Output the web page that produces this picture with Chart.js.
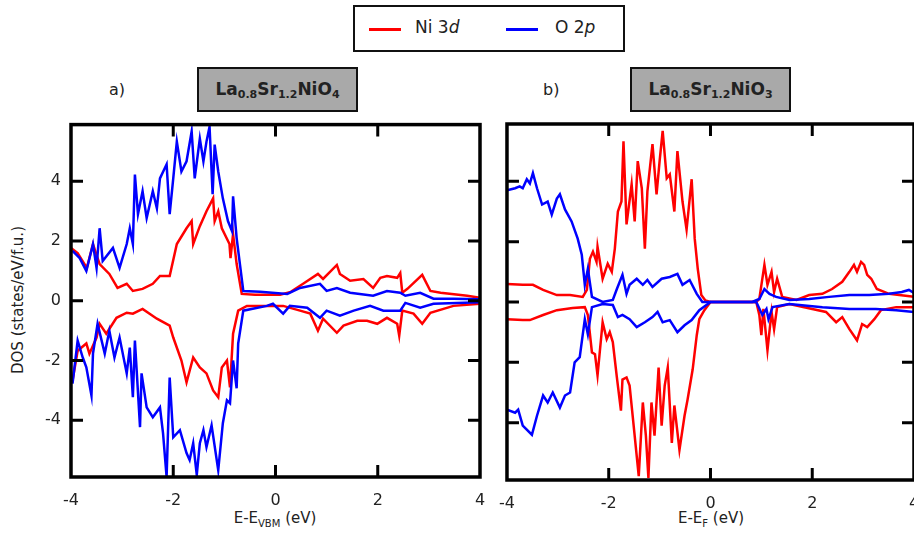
<!DOCTYPE html>
<html>
<head>
<meta charset="utf-8">
<script src="https://cdn.jsdelivr.net/npm/chart.js@4.4.1/dist/chart.umd.min.js"></script>
<style>
  html, body { margin: 0; padding: 0; background: #fff; overflow: hidden; }
  body { width: 914px; height: 535px; position: relative; font-family: "DejaVu Sans", sans-serif; color: #222; }
  .abs { position: absolute; }
  .legend { left: 353px; top: 5px; width: 268px; height: 43px; border: 2px solid #111; }
  .legend .ln { position: absolute; top: 21px; width: 32px; height: 3px; }
  .legend .tx { position: absolute; top: 10px; font-size: 17px; }
  .tbox { top: 67px; width: 157px; height: 41px; background: #a9a9a9; border: 2px solid #111;
          font-weight: bold; font-size: 17px; text-align: center; line-height: 41px; }
  .tbox sub { font-size: 11px; vertical-align: -3px; }
  .lbl { font-size: 16px; top: 80px; }
  .xtitle { top: 509px; font-size: 15px; transform: translateX(-50%); white-space: nowrap; }
  .xtitle sub { font-size: 10px; vertical-align: -4px; }
  .ytitle { left: 18px; top: 300px; font-size: 15px; white-space: nowrap;
            transform: translate(-50%, -50%) rotate(-90deg); }
</style>
</head>
<body>

<div class="abs legend">
  <div class="ln" style="left:14px;background:#ff0000"></div>
  <div class="tx" style="left:60px">Ni 3<i>d</i></div>
  <div class="ln" style="left:151px;background:#0000ff"></div>
  <div class="tx" style="left:200px">O 2<i>p</i></div>
</div>

<div class="abs lbl" style="left:109px">a)</div>
<div class="abs tbox" style="left:197px">La<sub>0.8</sub>Sr<sub>1.2</sub>NiO<sub>4</sub></div>
<div class="abs lbl" style="left:543px">b)</div>
<div class="abs tbox" style="left:630px">La<sub>0.8</sub>Sr<sub>1.2</sub>NiO<sub>3</sub></div>

<div class="abs ytitle">DOS (states/eV/f.u.)</div>
<div class="abs xtitle" style="left:275px">E-E<sub>VBM</sub> (eV)</div>
<div class="abs xtitle" style="left:711px">E-E<sub>F</sub> (eV)</div>

<div class="abs" style="left:0;top:105px;width:505px;height:430px"><canvas id="chartA"></canvas></div>
<div class="abs" style="left:485px;top:110px;width:451px;height:425px"><canvas id="chartB"></canvas></div>

<script>
// tick labels
const xTicks = [-4, -2, 0, 2, 4];
const yTicks = [-4, -2, 0, 2, 4];

// a) La0.8Sr1.2NiO4, energies vs E_VBM  [E, DOS]
const niUpA = [[-4,1.77],[-3.87,1.6],[-3.69,1.1],[-3.57,1.9],[-3.44,1.23],[-3.25,0.9],[-3.09,0.43],[-2.91,0.57],
  [-2.79,0.33],[-2.6,0.4],[-2.4,0.57],[-2.26,0.83],[-2.07,0.83],[-1.93,1.9],[-1.74,2.43],[-1.64,2.67],[-1.61,1.9],
  [-1.48,2.5],[-1.35,3.0],[-1.22,3.43],[-1.19,2.67],[-1.12,3.0],[-1.05,2.43],[-0.9,1.9],[-0.88,1.43],[-0.83,2.23],
  [-0.76,1.23],[-0.66,0.23],[-0.4,0.2],[0.09,0.2],[0.3,0.3],[0.54,0.57],[0.83,0.9],[0.93,0.73],[1.2,1.2],[1.26,0.9],
  [1.46,0.67],[1.72,0.73],[1.91,0.43],[2.05,0.77],[2.18,0.83],[2.38,0.77],[2.44,0.93],[2.48,0.27],[2.58,0.4],
  [2.87,0.87],[3.03,0.33],[3.23,0.27],[3.75,0.17],[4,0.1]];
const oUpA = [[-3.97,1.67],[-3.83,1.43],[-3.7,1.0],[-3.57,1.9],[-3.5,1.1],[-3.44,2.43],[-3.38,1.33],[-3.18,1.77],
  [-3.05,1.1],[-2.91,1.9],[-2.85,2.43],[-2.79,1.9],[-2.75,4.23],[-2.69,2.9],[-2.6,3.67],[-2.52,2.77],[-2.4,3.67],
  [-2.32,3.1],[-2.26,4.1],[-2.13,4.57],[-2.07,2.9],[-2.0,4.1],[-1.93,5.33],[-1.84,4.33],[-1.74,4.67],[-1.64,5.67],
  [-1.58,4.1],[-1.48,5.43],[-1.41,4.67],[-1.35,5.33],[-1.29,5.83],[-1.23,3.57],[-1.19,5.23],[-1.12,4.33],
  [-1.03,3.43],[-0.93,2.67],[-0.85,2.33],[-0.83,3.5],[-0.76,2.1],[-0.63,0.33],[-0.3,0.3],[0.23,0.23],[0.48,0.43],
  [0.87,0.57],[1.0,0.33],[1.2,0.43],[1.46,0.27],[1.91,0.17],[2.18,0.33],[2.44,0.27],[2.54,0.17],[2.83,0.27],
  [3.09,0.07],[3.48,0.07],[4,0.05]];
const niDnA = [[-3.97,-2.67],[-3.87,-1.67],[-3.7,-1.43],[-3.64,-1.77],[-3.5,-1.23],[-3.44,-0.77],[-3.31,-1.1],
  [-3.11,-0.57],[-2.91,-0.4],[-2.79,-0.43],[-2.6,-0.27],[-2.32,-0.6],[-2.07,-0.83],[-2.0,-1.23],[-1.84,-2.0],
  [-1.74,-2.73],[-1.61,-1.9],[-1.48,-2.23],[-1.35,-2.43],[-1.22,-3.0],[-1.12,-3.23],[-1.05,-2.23],[-0.95,-2.0],
  [-0.89,-2.9],[-0.83,-1.1],[-0.73,-0.33],[-0.56,-0.17],[0.15,-0.17],[0.48,-0.33],[0.68,-0.43],[0.83,-1.0],
  [0.93,-0.6],[1.2,-1.07],[1.33,-0.83],[1.6,-0.67],[1.79,-0.67],[1.99,-0.77],[2.18,-0.57],[2.38,-0.77],
  [2.42,-1.17],[2.48,-0.33],[2.7,-0.43],[2.87,-0.77],[3.03,-0.4],[3.48,-0.17],[4,-0.1]];
const oDnA = [[-3.97,-2.77],[-3.87,-1.33],[-3.77,-1.9],[-3.7,-2.23],[-3.6,-3.17],[-3.57,-1.77],[-3.48,-0.77],
  [-3.34,-1.77],[-3.25,-1.0],[-3.15,-1.9],[-3.05,-1.23],[-2.91,-2.43],[-2.85,-1.57],[-2.79,-3.23],[-2.75,-1.33],
  [-2.65,-4.23],[-2.62,-2.43],[-2.52,-3.57],[-2.4,-3.9],[-2.26,-3.57],[-2.2,-4.43],[-2.13,-5.9],[-2.07,-2.57],
  [-2.0,-4.57],[-1.87,-4.33],[-1.74,-5.1],[-1.68,-5.33],[-1.61,-4.77],[-1.54,-5.83],[-1.48,-4.77],[-1.41,-4.33],
  [-1.35,-4.9],[-1.25,-4.17],[-1.12,-5.67],[-1.03,-4.1],[-0.95,-3.33],[-0.89,-3.43],[-0.83,-2.0],[-0.76,-2.93],
  [-0.73,-1.43],[-0.63,-0.33],[-0.17,-0.17],[-0.05,-0.1],[0.15,-0.43],[0.28,-0.17],[0.62,-0.23],[0.87,-0.57],
  [1.0,-0.33],[1.26,-0.5],[1.53,-0.33],[1.85,-0.17],[2.11,-0.33],[2.44,-0.33],[2.54,-0.07],[2.83,-0.23],
  [3.09,-0.1],[4,-0.05]];

// b) La0.8Sr1.2NiO3, energies vs E_F  [E, DOS]
const niUpB = [[-4,0.6],[-3.69,0.57],[-3.49,0.57],[-3.29,0.4],[-3.02,0.23],[-2.76,0.23],[-2.51,0.17],[-2.43,0.4],
  [-2.37,1.43],[-2.31,1.67],[-2.24,1.33],[-2.22,1.83],[-2.12,0.77],[-2.02,1.27],[-1.94,1.0],[-1.88,1.77],
  [-1.82,3.0],[-1.75,3.33],[-1.71,5.33],[-1.65,2.57],[-1.55,3.9],[-1.49,2.67],[-1.43,4.67],[-1.35,3.77],
  [-1.29,1.77],[-1.24,3.67],[-1.14,5.23],[-1.06,3.57],[-1.0,4.67],[-0.94,5.67],[-0.86,4.1],[-0.8,4.23],
  [-0.71,3.0],[-0.65,5.0],[-0.55,3.33],[-0.47,2.4],[-0.37,4.07],[-0.31,2.1],[-0.25,1.1],[-0.18,0.23],
  [-0.1,0.05],[0,0],[0.9,0],[0.96,0.1],[1.06,1.23],[1.12,0.57],[1.2,1.0],[1.25,0.33],[1.31,0.77],[1.41,0.17],
  [1.69,0.07],[1.94,0.23],[2.2,0.27],[2.39,0.43],[2.59,0.67],[2.73,1.0],[2.82,1.23],[2.88,1.0],[2.96,1.33],
  [3.02,1.23],[3.08,0.9],[3.16,0.77],[3.27,0.43],[3.51,0.27],[3.71,0.23],[4,0.17]];
const oUpB = [[-4,3.7],[-3.84,3.77],[-3.75,3.83],[-3.69,3.77],[-3.61,4.07],[-3.55,3.93],[-3.49,4.27],[-3.41,3.77],
  [-3.31,3.23],[-3.2,3.33],[-3.12,2.9],[-3.02,3.43],[-2.96,3.57],[-2.86,3.07],[-2.73,2.67],[-2.61,2.1],
  [-2.53,1.57],[-2.47,0.57],[-2.41,1.1],[-2.33,0.17],[-2.12,0.0],[-1.92,0.07],[-1.84,0.43],[-1.73,0.9],
  [-1.65,0.27],[-1.59,0.57],[-1.45,0.77],[-1.33,0.57],[-1.24,0.73],[-1.14,0.5],[-0.96,0.77],[-0.8,0.83],
  [-0.65,0.93],[-0.55,0.57],[-0.41,0.73],[-0.27,0.27],[-0.16,0],[0.82,0],[0.96,0.1],[1.06,0.43],[1.16,0.27],
  [1.29,0.17],[1.55,0.07],[1.94,0.1],[2.33,0.17],[2.73,0.23],[3.12,0.23],[3.51,0.27],[3.76,0.33],[3.9,0.4],[4,0.3]];
const niDnB = [[-4,-0.57],[-3.69,-0.6],[-3.55,-0.6],[-3.29,-0.43],[-3.02,-0.27],[-2.71,-0.2],[-2.47,-0.17],
  [-2.41,-0.43],[-2.33,-1.67],[-2.27,-1.73],[-2.22,-2.43],[-2.12,-0.67],[-2.04,-1.23],[-1.98,-1.0],[-1.92,-1.33],
  [-1.84,-2.5],[-1.76,-3.6],[-1.73,-2.57],[-1.65,-2.5],[-1.59,-2.77],[-1.53,-3.77],[-1.41,-5.77],[-1.33,-3.33],
  [-1.27,-4.43],[-1.22,-5.83],[-1.16,-3.33],[-1.1,-4.43],[-1.02,-2.17],[-0.96,-4.1],[-0.9,-2.77],[-0.84,-2.17],
  [-0.76,-4.67],[-0.71,-3.43],[-0.61,-4.9],[-0.51,-3.77],[-0.45,-3.23],[-0.35,-2.23],[-0.27,-1.1],[-0.22,-0.57],
  [-0.12,-0.27],[0,0],[0.9,0],[0.96,-0.43],[1.0,-1.1],[1.04,-0.23],[1.12,-1.6],[1.2,-0.33],[1.25,-0.9],
  [1.31,-0.17],[1.55,-0.07],[2.0,-0.23],[2.27,-0.33],[2.47,-0.67],[2.59,-0.5],[2.73,-0.9],[2.88,-1.27],
  [2.98,-0.73],[3.08,-0.83],[3.22,-0.57],[3.35,-0.27],[3.65,-0.17],[4,-0.17]];
const oDnB = [[-4,-3.57],[-3.84,-3.67],[-3.78,-3.57],[-3.69,-4.1],[-3.51,-4.4],[-3.41,-3.77],[-3.29,-3.1],
  [-3.2,-3.33],[-3.1,-3.0],[-2.96,-3.5],[-2.86,-3.1],[-2.76,-3.0],[-2.67,-2.0],[-2.57,-1.83],[-2.47,-0.57],
  [-2.41,-1.07],[-2.33,-0.17],[-2.12,-0.07],[-1.92,-0.1],[-1.82,-0.5],[-1.73,-0.43],[-1.59,-0.57],[-1.45,-0.83],
  [-1.29,-0.67],[-1.14,-0.5],[-1.04,-0.33],[-0.94,-0.67],[-0.8,-0.6],[-0.65,-1.0],[-0.51,-0.77],[-0.37,-0.6],
  [-0.22,-0.27],[-0.08,-0.1],[0,0],[0.9,0],[1.02,-0.43],[1.1,-0.23],[1.14,-0.57],[1.22,-0.17],[1.55,-0.07],
  [2.2,-0.17],[2.73,-0.23],[3.25,-0.23],[3.65,-0.27],[4,-0.33]];

const RED = "#ff0000";
const BLUE = "#0000ff";

function toPts(arr) {
  return arr.map((p) => ({ x: p[0], y: p[1] }));
}

function line(data, color) {
  return {
    data: toPts(data),
    borderColor: color,
    borderWidth: 2.5,
    pointRadius: 0,
    tension: 0,
    fill: false,
  };
}

// frame with ticks pointing inward, like the original plot
const framePlugin = {
  id: "frame",
  afterDraw(chart) {
    const ctx = chart.ctx;
    const a = chart.chartArea;
    const xs = chart.scales.x;
    const ys = chart.scales.y;
    const len = 12;
    ctx.save();
    ctx.strokeStyle = "#000";
    ctx.lineWidth = 3.5;
    ctx.strokeRect(a.left, a.top, a.right - a.left, a.bottom - a.top);
    ctx.lineWidth = 3;
    ctx.beginPath();
    xs.ticks.forEach((t) => {
      const px = xs.getPixelForValue(t.value);
      if (px <= a.left + 2 || px >= a.right - 2) return;
      ctx.moveTo(px, a.top);
      ctx.lineTo(px, a.top + len);
      ctx.moveTo(px, a.bottom);
      ctx.lineTo(px, a.bottom - len);
    });
    ys.ticks.forEach((t) => {
      const py = ys.getPixelForValue(t.value);
      ctx.moveTo(a.left, py);
      ctx.lineTo(a.left + len, py);
      ctx.moveTo(a.right, py);
      ctx.lineTo(a.right - len, py);
    });
    ctx.stroke();
    ctx.restore();
  },
};

function makeChart(id, sets, yWidth, showY, xHeight, pad) {
  return new Chart(document.getElementById(id), {
    type: "line",
    data: { datasets: sets },
    options: {
      responsive: true,
      maintainAspectRatio: false,
      animation: false,
      layout: { padding: pad },
      plugins: { legend: { display: false }, tooltip: { enabled: false } },
      scales: {
        x: {
          type: "linear",
          min: -4,
          max: 4,
          grid: { display: false, drawTicks: false },
          border: { display: false },
          afterBuildTicks: (s) => { s.ticks = xTicks.map((v) => ({ value: v })); },
          afterFit: (s) => { s.height = xHeight; },
          ticks: {
            padding: 14,
            maxRotation: 0,
            color: "#222",
            font: { family: "DejaVu Sans", size: 16 },
          },
        },
        y: {
          min: -5.9,
          max: 5.9,
          grid: { display: false, drawTicks: false },
          border: { display: false },
          afterBuildTicks: (s) => { s.ticks = yTicks.map((v) => ({ value: v })); },
          afterFit: (s) => { s.width = yWidth; },
          ticks: {
            display: showY,
            padding: 10,
            color: "#222",
            font: { family: "DejaVu Sans", size: 16 },
          },
        },
      },
    },
    plugins: [framePlugin],
  });
}

// blue first so it is drawn on top of the red curves
makeChart("chartA",
  [line(oUpA, BLUE), line(oDnA, BLUE), line(niUpA, RED), line(niDnA, RED)],
  71, true, 58, { top: 18, right: 25, left: 0, bottom: 0 });

makeChart("chartB",
  [line(oUpB, BLUE), line(oDnB, BLUE), line(niUpB, RED), line(niDnB, RED)],
  12, false, 55, { top: 14, right: 22, left: 0, bottom: 0 });
</script>
</body>
</html>
